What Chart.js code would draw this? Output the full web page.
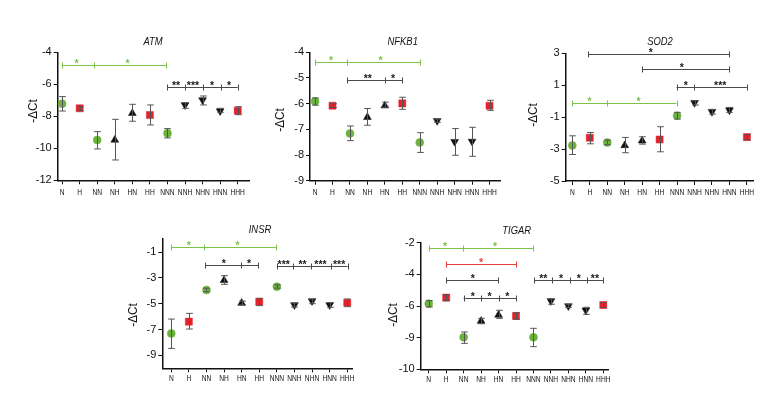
<!DOCTYPE html>
<html><head><meta charset="utf-8">
<script src="https://cdn.jsdelivr.net/npm/chart.js@4.4.0/dist/chart.umd.min.js"></script>
<style>
html,body{margin:0;padding:0;background:#fff;width:780px;height:420px;overflow:hidden}
canvas{position:absolute;left:0;top:0}
</style></head><body>
<canvas id="atm" width="780" height="420"></canvas>
<canvas id="nfkb1" width="780" height="420"></canvas>
<canvas id="sod2" width="780" height="420"></canvas>
<canvas id="insr" width="780" height="420"></canvas>
<canvas id="tigar" width="780" height="420"></canvas>
<script>
// ---------- data ----------
const categories = ['N','H','NN','NH','HN','HH','NNN','NNH','NHN','HNN','HHH'];
const markerKind = ['g','r','g','up','up','r','g','down','down','down','r'];

const atmMean = [-7.21,-7.50,-9.48,-9.48,-7.81,-7.92,-9.06,-7.29,-6.98,-7.67,-7.65];
const atmLow  = [-7.67,-7.65,-10.04,-10.73,-8.31,-8.54,-9.35,-7.50,-7.29,-7.75,-7.90];
const atmHigh = [-6.77,-7.40,-8.96,-8.19,-7.25,-7.29,-8.77,-7.15,-6.73,-7.50,-7.40];
const atmYTicks = [-4,-6,-8,-10,-12];
const atmYLabels = ['-4','-6','-8','-10','-12'];
const atmSig = [
  {c:'green', y:-4.79, from:0, to:5.92, ticks:[1.8], stars:[[0.83,'*'],[3.72,'*']]},
  {c:'black', y:-6.19, from:6, to:10, ticks:[7,8,9.07], stars:[[6.49,'**'],[7.45,'***'],[8.54,'*'],[9.5,'*']]}
];

const nfkbMean = [-5.91,-6.08,-7.16,-6.53,-6.08,-5.99,-7.51,-6.67,-7.48,-7.47,-6.08];
const nfkbLow  = [-6.06,-6.15,-7.44,-6.84,-6.14,-6.22,-7.90,-6.73,-8.01,-8.05,-6.26];
const nfkbHigh = [-5.78,-6.00,-6.87,-6.19,-5.94,-5.75,-7.13,-6.60,-6.97,-6.92,-5.87];
const nfkbYTicks = [-4,-5,-6,-7,-8,-9];
const nfkbYLabels = ['-4','-5','-6','-7','-8','-9'];
const nfkbSig = [
  {c:'green', y:-4.39, from:0, to:6.04, ticks:[1.85], stars:[[0.92,'*'],[3.75,'*']]},
  {c:'black', y:-5.09, from:1.85, to:5.01, ticks:[4.0], stars:[[3.02,'**'],[4.47,'*']]}
];

const sodMean = [-2.77,-2.29,-2.59,-2.77,-2.48,-2.40,-0.91,-0.10,-0.66,-0.56,-2.25];
const sodLow  = [-3.34,-2.67,-2.73,-3.23,-2.69,-3.17,-1.12,-0.24,-0.81,-0.70,-2.42];
const sodHigh = [-2.17,-1.96,-2.44,-2.27,-2.23,-1.60,-0.70,0.03,-0.51,-0.39,-2.10];
const sodYTicks = [3,1,-1,-3,-5];
const sodYLabels = ['3','1','-1','-3','-5'];
const sodSig = [
  {c:'black', y:2.96, from:0.9, to:9.0, ticks:[], stars:[[4.5,'*']]},
  {c:'black', y:2.0, from:3.98, to:9.0, ticks:[], stars:[[6.27,'*']]},
  {c:'black', y:0.91, from:5.97, to:10, ticks:[6.96], stars:[[6.5,'*'],[8.47,'***']]},
  {c:'green', y:-0.14, from:0, to:5.97, ticks:[1.97], stars:[[0.98,'*'],[3.79,'*']]}
];

const insrMean = [-7.30,-6.39,-3.94,-3.19,-4.95,-4.85,-3.68,-5.10,-4.79,-5.10,-4.92];
const insrLow  = [-8.46,-6.96,-4.07,-3.50,-5.10,-5.15,-3.80,-5.26,-5.00,-5.28,-5.23];
const insrHigh = [-6.19,-5.75,-3.80,-2.83,-4.80,-4.59,-3.55,-4.95,-4.64,-4.92,-4.64];
const insrYTicks = [-1,-3,-5,-7,-9];
const insrYLabels = ['-1','-3','-5','-7','-9'];
const insrSig = [
  {c:'green', y:-0.59, from:0, to:5.94, ticks:[1.86], stars:[[0.99,'*'],[3.76,'*']]},
  {c:'black', y:-2.0, from:1.94, to:4.93, ticks:[3.95], stars:[[2.98,'*'],[4.42,'*']]},
  {c:'black', y:-2.08, from:6.0, to:10.02, ticks:[6.93,7.95,9.05], stars:[[6.39,'***'],[7.46,'**'],[8.48,'***'],[9.54,'***']]}
];

const tigarMean = [-5.85,-5.47,-7.98,-6.95,-6.57,-6.63,-7.98,-5.68,-6.00,-6.27,-5.94];
const tigarLow  = [-6.06,-5.66,-8.36,-7.12,-6.78,-6.84,-8.57,-5.89,-6.10,-6.53,-6.10];
const tigarHigh = [-5.66,-5.30,-7.64,-6.78,-6.27,-6.42,-7.41,-5.55,-5.89,-6.08,-5.79];
const tigarYTicks = [-2,-4,-6,-8,-10];
const tigarYLabels = ['-2','-4','-6','-9','-10'];
const tigarSig = [
  {c:'green', y:-2.32, from:0, to:5.97, ticks:[1.98], stars:[[0.94,'*'],[3.8,'*']]},
  {c:'red', y:-3.37, from:1.01, to:5.0, ticks:[], stars:[[3.0,'*']]},
  {c:'black', y:-4.38, from:1.0, to:3.99, ticks:[], stars:[[2.52,'*']]},
  {c:'black', y:-5.47, from:2.0, to:5.0, ticks:[3,4], stars:[[2.52,'*'],[3.49,'*'],[4.5,'*']]},
  {c:'black', y:-4.37, from:6.05, to:10, ticks:[7.04,8.09,9.05], stars:[[6.56,'**'],[7.58,'*'],[8.6,'*'],[9.52,'**']]}
];

// ---------- layout / style ----------
const SANS = "'Liberation Sans',Arial,sans-serif";
const COL = {g:'#6cb33e', r:'#e3222c', k:'#111111'};
const SIGCOL = {green:'#7cc24b', red:'#e8403a', black:'#4a4a4a'};
const STARCOL = {green:'#7cc24b', red:'#e8403a', black:'#1a1a1a'};

const panels = {
  atm:   {title:'ATM',   mean:atmMean,  low:atmLow,  high:atmHigh,  yt:atmYTicks,  yl:atmYLabels,  sig:atmSig,
          L:57.7, R:250, T:52.3, B:180.3, ymin:-12, ymax:-4, xmin:-0.25, xmax:10.7, tx:153, ty:42, ytx:33, yty:111, lx:12.4},
  nfkb1: {title:'NFKB1', mean:nfkbMean, low:nfkbLow, high:nfkbHigh, yt:nfkbYTicks, yl:nfkbYLabels, sig:nfkbSig,
          L:310, R:500, T:52.3, B:180.7, ymin:-9, ymax:-4, xmin:-0.29, xmax:10.6, tx:402.7, ty:42, ytx:280, yty:120, lx:12},
  sod2:  {title:'SOD2',  mean:sodMean,  low:sodLow,  high:sodHigh,  yt:sodYTicks,  yl:sodYLabels,  sig:sodSig,
          L:565.7, R:753, T:53.3, B:181, ymin:-5, ymax:3, xmin:-0.38, xmax:10.35, tx:660, ty:42, ytx:533, yty:115, lx:11.7},
  insr:  {title:'INSR',  mean:insrMean, low:insrLow, high:insrHigh, yt:insrYTicks, yl:insrYLabels, sig:insrSig,
          L:162.3, R:352, T:239.1, B:368.3, ymin:-10, ymax:0, xmin:-0.51, xmax:10.27, tx:260, ty:230, ytx:133, yty:315, lx:10.7},
  tigar: {title:'TIGAR', mean:tigarMean,low:tigarLow,high:tigarHigh,yt:tigarYTicks,yl:tigarYLabels,sig:tigarSig,
          L:420.7, R:608, T:242.7, B:369.3, ymin:-10, ymax:-2, xmin:-0.46, xmax:10.27, tx:516.7, ty:231, ytx:393, yty:315, lx:10}
};

const YW = 40, XH = 22;

function squeezedText(ctx, text, x, y, sx) {
  ctx.save();
  ctx.translate(x, y);
  ctx.scale(sx, 1);
  ctx.fillText(text, 0, 0);
  ctx.restore();
}

const overlay = {
  id: 'overlay',
  afterDatasetsDraw(chart) {
    const p = panels[chart.canvas.id];
    const xs = chart.scales.x, ys = chart.scales.y, ctx = chart.ctx;
    ctx.save();
    // error bars
    ctx.strokeStyle = '#555'; ctx.lineWidth = 1;
    p.low.forEach((lo, i) => {
      const x = Math.round(xs.getPixelForValue(i)) + 0.5;
      const y1 = ys.getPixelForValue(lo), y2 = ys.getPixelForValue(p.high[i]);
      ctx.beginPath();
      ctx.moveTo(x, y1); ctx.lineTo(x, y2);
      ctx.moveTo(x - 3.3, y1); ctx.lineTo(x + 3.3, y1);
      ctx.moveTo(x - 3.3, y2); ctx.lineTo(x + 3.3, y2);
      ctx.stroke();
    });
    // significance bars
    p.sig.forEach(s => {
      const y = Math.round(ys.getPixelForValue(s.y)) + 0.5;
      const x1 = xs.getPixelForValue(s.from), x2 = xs.getPixelForValue(s.to);
      ctx.strokeStyle = SIGCOL[s.c]; ctx.lineWidth = 1;
      ctx.beginPath();
      ctx.moveTo(x1, y); ctx.lineTo(x2, y);
      [s.from, s.to].concat(s.ticks).forEach(t => {
        const xt = Math.round(xs.getPixelForValue(t)) + 0.5;
        ctx.moveTo(xt, y - 3); ctx.lineTo(xt, y + 3);
      });
      ctx.stroke();
      ctx.fillStyle = STARCOL[s.c];
      ctx.font = 'bold 10.5px ' + SANS;
      ctx.textAlign = 'center'; ctx.textBaseline = 'alphabetic';
      s.stars.forEach(([sx, t]) => {
        ctx.fillText(t, xs.getPixelForValue(sx), y + 1);
      });
    });
  },
  afterDraw(chart) {
    const p = panels[chart.canvas.id];
    const xs = chart.scales.x, ctx = chart.ctx;
    ctx.save();
    ctx.fillStyle = '#111';
    // x category labels (condensed)
    ctx.font = '8.5px ' + SANS;
    ctx.textAlign = 'center'; ctx.textBaseline = 'middle';
    categories.forEach((c, i) => squeezedText(ctx, c, xs.getPixelForValue(i), p.B + p.lx, 0.78));
    // title
    ctx.font = 'italic 11.5px ' + SANS;
    squeezedText(ctx, p.title, p.tx, p.ty, 0.82);
    // y axis title
    ctx.translate(p.ytx, p.yty);
    ctx.rotate(-Math.PI / 2);
    ctx.font = '13px ' + SANS;
    squeezedText(ctx, '-ΔCt', 0, 0, 0.9);
    ctx.restore();
  }
};

function build(id) {
  const p = panels[id];
  const kindOf = i => markerKind[i];
  new Chart(document.getElementById(id), {
    type: 'scatter',
    data: {
      datasets: [{
        data: p.mean.map((v, i) => ({x: i, y: v})),
        pointStyle: c => ({g:'circle', r:'rect', up:'triangle', down:'triangle'})[kindOf(c.dataIndex)],
        pointRotation: c => kindOf(c.dataIndex) === 'down' ? 180 : 0,
        pointRadius: c => ({g:4, r:5, up:4.5, down:4.5})[kindOf(c.dataIndex)],
        pointBackgroundColor: c => ({g:COL.g, r:COL.r, up:COL.k, down:COL.k})[kindOf(c.dataIndex)],
        pointBorderColor: c => ({g:COL.g, r:COL.r, up:COL.k, down:COL.k})[kindOf(c.dataIndex)],
        pointBorderWidth: 0.5,
        showLine: false
      }]
    },
    options: {
      responsive: false, animation: false, devicePixelRatio: 1,
      events: [],
      layout: {padding: {left: p.L - YW, top: p.T, right: 780 - p.R, bottom: 420 - p.B - XH}},
      plugins: {legend: {display: false}, tooltip: {enabled: false}, title: {display: false}},
      scales: {
        x: {
          type: 'linear', min: p.xmin, max: p.xmax,
          afterBuildTicks: s => { s.ticks = categories.map((c, i) => ({value: i})); },
          afterFit: s => { s.height = XH; },
          ticks: {callback: (v) => categories[v], font: {family: SANS, size: 8}, color: 'rgba(0,0,0,0)',
                  padding: 1, maxRotation: 0, autoSkip: false},
          grid: {display: true, drawOnChartArea: false, drawTicks: true, tickLength: 4, color: '#111', lineWidth: 1},
          border: {display: true, color: '#111', width: 1.5}
        },
        y: {
          type: 'linear', min: p.ymin, max: p.ymax,
          afterBuildTicks: s => { s.ticks = p.yt.map(v => ({value: v})); },
          afterFit: s => { s.width = YW; },
          ticks: {callback: (v, i) => p.yl[i], font: {family: SANS, size: 11}, color: '#111', padding: 2},
          grid: {display: true, drawOnChartArea: false, drawTicks: true, tickLength: 4, color: '#111', lineWidth: 1},
          border: {display: true, color: '#111', width: 1.5}
        }
      }
    },
    plugins: [overlay]
  });
}
Object.keys(panels).forEach(build);
</script>
</body></html>
